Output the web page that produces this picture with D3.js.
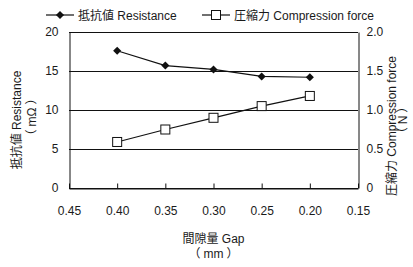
<!DOCTYPE html>
<html>
<head>
<meta charset="utf-8">
<script src="https://cdn.jsdelivr.net/npm/d3@7"></script>
<style>
  body { margin: 0; background: #fff; }
  svg { display: block; font-family: "Liberation Sans", Arial, "Noto Sans CJK JP", sans-serif; }
  text { fill: #1a1a1a; }
</style>
</head>
<body>
<div id="chart" style="width:413px;height:267px"></div>
<script>
const gaps = [0.40, 0.35, 0.30, 0.25, 0.20];
const resistance = [17.6, 15.7, 15.2, 14.3, 14.2];
const compression = [0.59, 0.75, 0.90, 1.05, 1.18];
const xTicks = [0.45, 0.40, 0.35, 0.30, 0.25, 0.20, 0.15];
const leftTicks = [0, 5, 10, 15, 20];
const rightTicks = [0, 0.5, 1.0, 1.5, 2.0];
const seriesNames = ["抵抗値 Resistance", "圧縮力 Compression force"];

const rootDOM = document.getElementById("chart");
const W = rootDOM.clientWidth;
const H = rootDOM.clientHeight;
const m = {t:32, l:69, b:79, r:55};

const scaleX = d3.scaleLinear()
				.domain([0.45, 0.15])
				.range([m.l, W - m.r]);

const scaleY = d3.scaleLinear()
				.domain([0, 20])
				.range([H - m.b, m.t]);

const scaleY2 = d3.scaleLinear()
				.domain([0, 2])
				.range([H - m.b, m.t]);

const svg = d3.select(rootDOM)
			.append("svg")
			.attr("width", W)
			.attr("height", H);

// gridlines
svg.append("g")
	.selectAll("line")
	.data(leftTicks)
	.join("line")
	.attr("x1", m.l)
	.attr("x2", W - m.r)
	.attr("y1", d => Math.round(scaleY(d)) + 0.5)
	.attr("y2", d => Math.round(scaleY(d)) + 0.5)
	.style("stroke", "#111")
	.style("stroke-width", 1);

const axisX = d3.axisBottom(scaleX)
				.tickValues(xTicks)
				.tickFormat(d3.format(".2f"))
				.tickSizeInner(-5)
				.tickSizeOuter(0)
				.tickPadding(18);

const axisY = d3.axisLeft(scaleY)
				.tickValues(leftTicks)
				.tickSize(0)
				.tickPadding(11);

const axisY2 = d3.axisRight(scaleY2)
				.tickValues(rightTicks)
				.tickFormat(d => d === 0 ? "0" : d3.format(".1f")(d))
				.tickSize(0)
				.tickPadding(8);

const gx = svg.append("g")
	.attr("transform", `translate(0,${Math.round(scaleY(0)) + 0.5})`)
	.call(axisX);
const gy = svg.append("g")
	.attr("transform", `translate(${m.l + 0.5},0)`)
	.call(axisY);
const gy2 = svg.append("g")
	.attr("transform", `translate(${W - m.r + 0.5},0)`)
	.call(axisY2);

[gx, gy, gy2].forEach(g => {
	g.selectAll(".domain").style("stroke", "#111");
	g.selectAll(".tick line").style("stroke", "#111");
	g.selectAll("text")
		.style("font-size", "12px")
		.style("font-family", "'Liberation Sans', Arial, sans-serif")
		.style("fill", "#1a1a1a");
});

// lines
const lineR = d3.line()
				.x((d, i) => scaleX(gaps[i]))
				.y(d => scaleY(d));
const lineC = d3.line()
				.x((d, i) => scaleX(gaps[i]))
				.y(d => scaleY2(d));

svg.append("path")
	.datum(resistance)
	.attr("d", lineR)
	.style("fill", "none")
	.style("stroke", "#111")
	.style("stroke-width", 1.2);

svg.append("path")
	.datum(compression)
	.attr("d", lineC)
	.style("fill", "none")
	.style("stroke", "#111")
	.style("stroke-width", 1.2);

const diamond = d3.symbol().type(d3.symbolSquare2).size(42);

svg.append("g")
	.selectAll("path")
	.data(resistance)
	.join("path")
	.attr("d", diamond)
	.attr("transform", (d, i) => `translate(${scaleX(gaps[i])},${scaleY(d)}) rotate(45)`)
	.style("fill", "#111");

svg.append("g")
	.selectAll("rect")
	.data(compression)
	.join("rect")
	.attr("x", (d, i) => scaleX(gaps[i]) - 4.5)
	.attr("y", d => scaleY2(d) - 4.5)
	.attr("width", 9)
	.attr("height", 9)
	.style("fill", "#fff")
	.style("stroke", "#111")
	.style("stroke-width", 1);

// legend
const legend = svg.append("g").attr("transform", "translate(0,15)");
const leg1 = legend.append("g").attr("transform", "translate(46,0)");
leg1.append("line").attr("x1", 0).attr("x2", 28).style("stroke", "#111").style("stroke-width", 1.2);
leg1.append("path")
	.attr("d", diamond)
	.attr("transform", "translate(14,0) rotate(45)")
	.style("fill", "#111");
leg1.append("text").attr("x", 32).attr("dy", "0.38em").style("font-size", "12px").text(seriesNames[0]);

const leg2 = legend.append("g").attr("transform", "translate(202,0)");
leg2.append("line").attr("x1", 0).attr("x2", 28).style("stroke", "#111").style("stroke-width", 1.2);
leg2.append("rect").attr("x", 9.5).attr("y", -4.5).attr("width", 9).attr("height", 9)
	.style("fill", "#fff").style("stroke", "#111");
leg2.append("text").attr("x", 32).attr("dy", "0.38em").style("font-size", "12px").text(seriesNames[1]);

// unit line: wide parens round the unit
function unit(textSel, x, y, u) {
	textSel.append("tspan").attr("x", x).attr("y", y).text("（");
	textSel.append("tspan").attr("dx", 3).text(u);
	textSel.append("tspan").attr("dx", 3).text("）");
}

// axis titles
const xTitle = svg.append("text")
	.attr("text-anchor", "middle")
	.attr("transform", `translate(${(m.l + W - m.r) / 2},0)`)
	.style("font-size", "12px");
xTitle.append("tspan").attr("x", 0).attr("y", 243).text("間隙量 Gap");
unit(xTitle, 0, 258, "mm");

const yTitle = svg.append("text")
	.attr("text-anchor", "middle")
	.attr("transform", "translate(0,120) rotate(-90)")
	.style("font-size", "12px");
yTitle.append("tspan").attr("x", 0).attr("y", 21).text("抵抗値 Resistance");
unit(yTitle, 3, 36, "mΩ");

const y2Title = svg.append("text")
	.attr("text-anchor", "middle")
	.attr("transform", "translate(0,126) rotate(-90)")
	.style("font-size", "12px");
y2Title.append("tspan").attr("x", 0).attr("y", 396).text("圧縮力 Compression force");
unit(y2Title, 6, 407, "N");
</script>
</body>
</html>
